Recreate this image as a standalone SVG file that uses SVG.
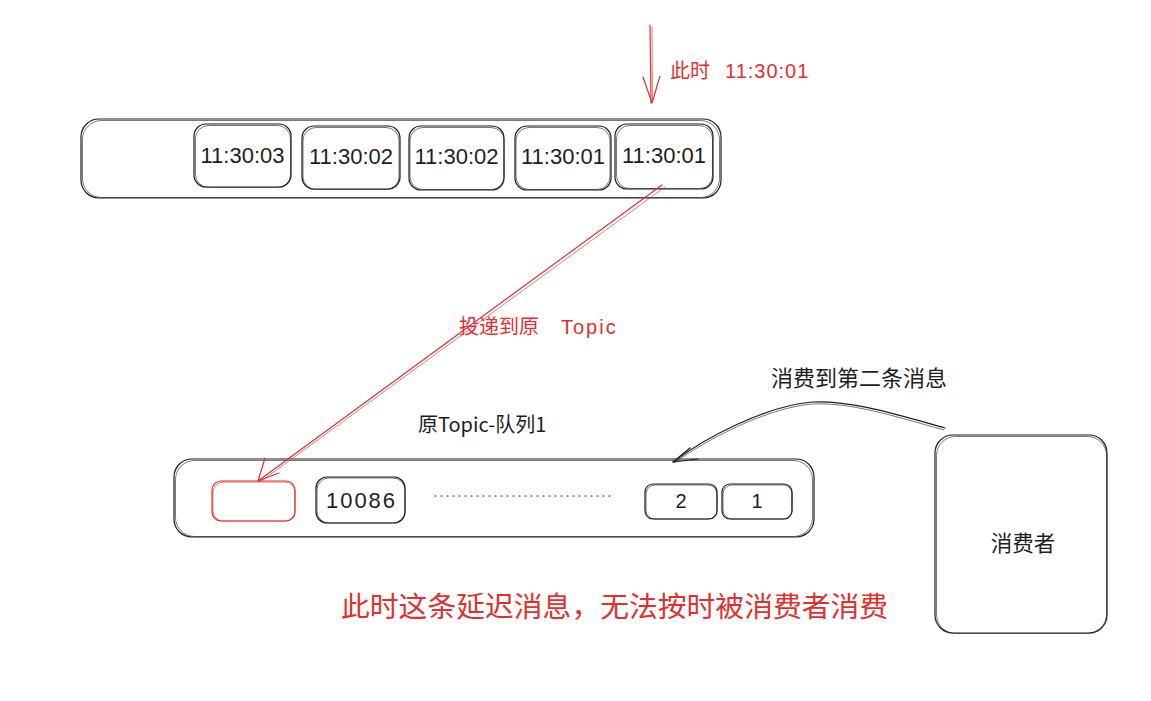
<svg xmlns="http://www.w3.org/2000/svg" width="1151" height="701" viewBox="0 0 1151 701">
  <defs>
    <style>
      .sk { fill: none; stroke: #1e1e1e; stroke-width: 1.2; stroke-linecap: round; stroke-linejoin: round; }
      .sk2 { fill: none; stroke: #1e1e1e; stroke-width: 0.8; opacity: 0.75; }
      .rd { fill: none; stroke: #e03131; stroke-width: 1.2; stroke-linecap: round; stroke-linejoin: round; }
      .rd2 { fill: none; stroke: #e03131; stroke-width: 0.8; opacity: 0.8; stroke-linecap: round; }
      .hand { font-family: "Liberation Sans", "DejaVu Sans", sans-serif; fill: #1e1e1e; }
      .cjk { font-family: "Noto Sans CJK SC", "Noto Sans", sans-serif; fill: #1e1e1e; }
      .red { fill: #e03131; }
    </style>
  </defs>
  <rect width="1151" height="701" fill="#ffffff"/>

  <!-- delay queue -->
  <g id="delay-queue">
    <rect class="sk" x="81" y="119" width="640" height="79" rx="18"/>
    <rect class="sk2" x="82.5" y="120.5" width="637" height="77" rx="19"/>
  </g>
  <g id="slot-1">
    <rect class="sk" x="194" y="124" width="97" height="63" rx="12"/>
    <rect class="sk2" x="195.5" y="125.5" width="95" height="62" rx="13"/>
    <text class="hand" x="242.5" y="163" font-size="22" text-anchor="middle">11:30:03</text>
  </g>
  <g id="slot-2">
    <rect class="sk" x="302" y="126" width="98" height="63" rx="12"/>
    <rect class="sk2" x="303" y="127.5" width="96" height="62" rx="13"/>
    <text class="hand" x="351" y="164" font-size="22" text-anchor="middle">11:30:02</text>
  </g>
  <g id="slot-3">
    <rect class="sk" x="409" y="126" width="95" height="64" rx="12"/>
    <rect class="sk2" x="410" y="127.5" width="94" height="62" rx="13"/>
    <text class="hand" x="456.5" y="164" font-size="22" text-anchor="middle">11:30:02</text>
  </g>
  <g id="slot-4">
    <rect class="sk" x="515" y="126" width="96" height="64" rx="12"/>
    <rect class="sk2" x="516" y="127.5" width="94" height="62" rx="13"/>
    <text class="hand" x="563" y="164" font-size="22" text-anchor="middle">11:30:01</text>
  </g>
  <g id="slot-5">
    <rect class="sk" x="615" y="124" width="98" height="65" rx="12"/>
    <rect class="sk2" x="616.5" y="125.5" width="96" height="63" rx="13"/>
    <text class="hand" x="664" y="163" font-size="22" text-anchor="middle">11:30:01</text>
  </g>

  <!-- original topic queue -->
  <g id="topic-queue">
    <text class="cjk" x="418" y="432" font-size="20">原Topic-队列1</text>
    <rect class="sk" x="174" y="459" width="640" height="78" rx="18"/>
    <rect class="sk2" x="175.5" y="460.5" width="637" height="76" rx="19"/>
    <line x1="435" y1="496" x2="615" y2="496" stroke="#1e1e1e" stroke-width="1.2" stroke-dasharray="1 5" stroke-linecap="round"/>
  </g>
  <g id="slot-delayed">
    <rect class="rd" x="212" y="481" width="83" height="40" rx="9"/>
    <rect class="rd2" x="213" y="482" width="82" height="39" rx="10"/>
  </g>
  <g id="slot-10086">
    <rect class="sk" x="316" y="477" width="89" height="46" rx="11"/>
    <rect class="sk2" x="317" y="478" width="88" height="45" rx="12"/>
    <text class="hand" x="361.5" y="508" font-size="22" letter-spacing="2" text-anchor="middle">10086</text>
  </g>
  <g id="slot-2nd">
    <rect class="sk" x="645" y="484" width="72" height="35" rx="8"/>
    <rect class="sk2" x="646" y="485" width="71" height="34" rx="9"/>
    <text class="hand" x="681" y="508" font-size="20" text-anchor="middle">2</text>
  </g>
  <g id="slot-1st">
    <rect class="sk" x="722" y="484" width="70" height="35" rx="8"/>
    <rect class="sk2" x="723" y="485" width="69" height="34" rx="9"/>
    <text class="hand" x="757" y="508" font-size="20" text-anchor="middle">1</text>
  </g>

  <!-- consumer -->
  <g id="consumer">
    <rect class="sk" x="935" y="435" width="172" height="198" rx="18"/>
    <rect class="sk2" x="936.5" y="436.5" width="170" height="197" rx="19"/>
    <text class="cjk" x="1023" y="551" font-size="21.5" text-anchor="middle">消费者</text>
  </g>

  <!-- connectors -->
  <g id="connectors">
    <!-- current time pointer -->
    <path class="rd" d="M650 25 L651 103"/>
    <path class="rd2" d="M652 27 L652.5 101"/>
    <path class="rd" d="M643 77 L652 103 L660 76"/>
    <!-- re-delivery to topic -->
    <path class="rd" d="M662 185 L258 481"/>
    <path class="rd2" d="M665 187 L260 482"/>
    <path class="rd" d="M265 458 L258 481 L279 473"/>
    <!-- consumer offset -->
    <path class="sk" d="M945 428 C 895 414 850 400 812 402 C 765 406 705 438 673 462"/>
    <path class="sk2" d="M944 430 C 894 416 850 402 812 404 C 766 408 706 440 674 463"/>
    <path class="sk" d="M690 448 L673 462 L698 459"/>
  </g>

  <!-- labels -->
  <g id="labels">
    <text class="cjk red" x="670" y="78" font-size="20">此时</text>
    <text class="hand red" x="725" y="78" font-size="20" letter-spacing="1">11:30:01</text>
    <text class="cjk red" x="459" y="334" font-size="20">投递到原</text>
    <text class="hand red" x="561" y="334" font-size="20" letter-spacing="2">Topic</text>
    <text class="cjk" x="771" y="386" font-size="22">消费到第二条消息</text>
    <text class="cjk red" x="341" y="617" font-size="28.8">此时这条延迟消息，无法按时被消费者消费</text>
  </g>
</svg>
